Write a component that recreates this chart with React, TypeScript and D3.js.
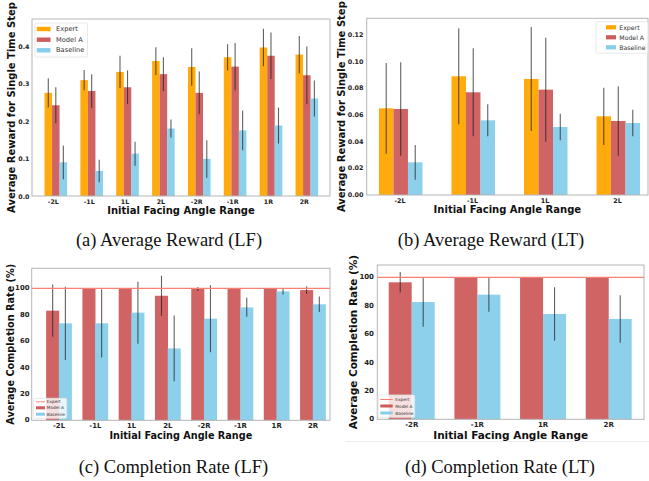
import React from "react";
import * as d3 from "d3";

// categories
const catsLF = ["-2L", "-1L", "1L", "2L", "-2R", "-1R", "1R", "2R"];
const catsLT = ["-2L", "-1L", "1L", "2L"];
const catsLTc = ["-2R", "-1R", "1R", "2R"];

// (a) average reward, LF
const rewLFExpert = [0.275, 0.309, 0.331, 0.36, 0.344, 0.37, 0.396, 0.377];
const rewLFExpertErr = [0.039, 0.027, 0.043, 0.037, 0.05, 0.035, 0.05, 0.05];
const rewLFModel = [0.242, 0.28, 0.29, 0.325, 0.275, 0.345, 0.374, 0.322];
const rewLFModelErr = [0.048, 0.045, 0.045, 0.045, 0.057, 0.063, 0.062, 0.077];
const rewLFBase = [0.09, 0.067, 0.113, 0.18, 0.099, 0.175, 0.188, 0.26];
const rewLFBaseErr = [0.045, 0.03, 0.032, 0.024, 0.05, 0.053, 0.048, 0.048];

// (b) average reward, LT
const rewLTExpert = [0.065, 0.089, 0.087, 0.059];
const rewLTExpertErr = [0.034, 0.036, 0.039, 0.0215];
const rewLTModel = [0.0645, 0.077, 0.079, 0.0555];
const rewLTModelErr = [0.035, 0.033, 0.039, 0.026];
const rewLTBase = [0.0245, 0.056, 0.051, 0.054];
const rewLTBaseErr = [0.013, 0.012, 0.01, 0.01];

// (c) completion rate, LF
const compLFModel = [83.1, 100, 100, 94.4, 99.5, 100, 100, 98.7];
const compLFModelErr = [19.8, 0, 0, 15.2, 1.5, 0, 0, 2.9];
const compLFBase = [73.5, 73.5, 81.6, 54.5, 77, 85.6, 97.7, 87.9];
const compLFBaseErr = [27.8, 25.9, 23.5, 24.9, 25.4, 7.2, 2.3, 5.9];

// (d) completion rate, LT
const compLTModel = [96.5, 100, 100, 100];
const compLTModelErr = [7.2, 0, 0, 0];
const compLTBase = [82.6, 87.8, 74.2, 70.7];
const compLTBaseErr = [17.4, 12, 18.8, 16.7];

const expertRate = 100;

const ORANGE = "#ffa500";
const RED = "#cd5c5c";
const BLUE = "#87ceeb";
const SALMON = "#fa8072";
const BOLD = "'DejaVu Sans', sans-serif";

type Series = { name: string; color: string; mean: number[]; err: number[]; off: number };

function Panel(p: any) {
  const [l, t, r, b] = p.frame;
  const x = d3.scaleLinear().domain(p.xlim).range([l, r]);
  const y = d3.scaleLinear().domain([0, p.yMax]).range([b, t]);
  const bw = x(p.barW) - x(0);
  const fmt = d3.format(p.fmt);
  const lg = p.legend;
  const items: any[] = [];
  if (p.expert != null) items.push({ name: "Expert", color: SALMON, line: true });
  p.series.forEach((s: Series) => items.push({ name: s.name, color: s.color }));

  return (
    <g>
      {p.series.map((s: Series) =>
        s.mean.map((v, i) => (
          <rect
            key={s.name + i}
            x={x(i + s.off) - bw / 2}
            width={bw}
            y={y(v)}
            height={y(0) - y(v)}
            fill={s.color}
            opacity={0.95}
          />
        ))
      )}
      {p.series.map((s: Series) =>
        s.mean.map((v, i) =>
          s.err[i] > 0 ? (
            <line
              key={"e" + s.name + i}
              x1={x(i + s.off)}
              x2={x(i + s.off)}
              y1={y(v - s.err[i])}
              y2={y(v + s.err[i])}
              stroke="rgba(30,30,30,0.7)"
              strokeWidth={1.1}
            />
          ) : null
        )
      )}
      {p.expert != null && (
        <line x1={l} x2={r} y1={y(p.expert)} y2={y(p.expert)} stroke={SALMON} strokeWidth={1.2} />
      )}
      <rect x={l} y={t} width={r - l} height={b - t} fill="none" stroke="#b5b5b5" strokeWidth={1} />
      {p.yTicks.map((v: number) => (
        <text
          key={"yt" + v}
          x={p.ytickX}
          y={y(v)}
          textAnchor="end"
          dominantBaseline="central"
          fontFamily={BOLD}
          fontWeight="bold"
          fontSize={p.tickSize}
          fill="#222"
        >
          {fmt(v)}
        </text>
      ))}
      {p.cats.map((c: string, i: number) => (
        <text
          key={"xt" + c}
          x={x(i + p.tickOff)}
          y={p.xtickY}
          textAnchor="middle"
          dominantBaseline="central"
          fontFamily={BOLD}
          fontWeight="bold"
          fontSize={p.tickSize}
          fill="#222"
        >
          {c}
        </text>
      ))}
      <text
        x={(l + r) / 2}
        y={p.xlabelY}
        textAnchor="middle"
        dominantBaseline="central"
        fontFamily={BOLD}
        fontWeight="bold"
        fontSize={p.labelSize}
        fill="#111"
      >
        Initial Facing Angle Range
      </text>
      <text
        transform={`translate(${p.ylabelX},${(t + b) / 2}) rotate(-90)`}
        textAnchor="middle"
        dominantBaseline="central"
        fontFamily={BOLD}
        fontWeight="bold"
        fontSize={p.labelSize}
        fill="#111"
      >
        {p.ylabel}
      </text>
      <rect
        x={lg.x0}
        y={lg.y0}
        width={lg.x1 - lg.x0}
        height={lg.y1 - lg.y0}
        fill="white"
        fillOpacity={0.8}
        stroke="#e2e2e2"
        strokeWidth={0.8}
        rx={1.5}
      />
      {items.map((it, i) =>
        <g key={"lg" + it.name}>
          {it.line ? (
            <line x1={lg.px0} x2={lg.px1} y1={lg.rows[i]} y2={lg.rows[i]} stroke={it.color} strokeWidth={1} />
          ) : (
            <rect x={lg.px0} width={lg.px1 - lg.px0} y={lg.rows[i] - lg.ph / 2} height={lg.ph} fill={it.color} />
          )}
          <text
            x={lg.tx}
            y={lg.rows[i]}
            dominantBaseline="central"
            fontFamily={BOLD}
            fontSize={lg.fs}
            fill="#333"
          >
            {it.name}
          </text>
        </g>
      )}
    </g>
  );
}

function Caption({ x, y, text }: { x: number; y: number; text: string }) {
  return (
    <text
      x={x}
      y={y}
      textAnchor="middle"
      dominantBaseline="central"
      fontFamily="'Liberation Serif', 'Times New Roman', serif"
      fontSize={18.5}
      fill="#111"
    >
      {text}
    </text>
  );
}

export default function App() {
  const rewardLF: Series[] = [
    { name: "Expert", color: ORANGE, mean: rewLFExpert, err: rewLFExpertErr, off: -0.14 },
    { name: "Model A", color: RED, mean: rewLFModel, err: rewLFModelErr, off: 0.07 },
    { name: "Baseline", color: BLUE, mean: rewLFBase, err: rewLFBaseErr, off: 0.28 },
  ];
  const rewardLT: Series[] = [
    { name: "Expert", color: ORANGE, mean: rewLTExpert, err: rewLTExpertErr, off: -0.19 },
    { name: "Model A", color: RED, mean: rewLTModel, err: rewLTModelErr, off: 0.01 },
    { name: "Baseline", color: BLUE, mean: rewLTBase, err: rewLTBaseErr, off: 0.21 },
  ];
  const compLF: Series[] = [
    { name: "Model A", color: RED, mean: compLFModel, err: compLFModelErr, off: -0.175 },
    { name: "Baseline", color: BLUE, mean: compLFBase, err: compLFBaseErr, off: 0.175 },
  ];
  const compLT: Series[] = [
    { name: "Model A", color: RED, mean: compLTModel, err: compLTModelErr, off: -0.175 },
    { name: "Baseline", color: BLUE, mean: compLTBase, err: compLTBaseErr, off: 0.175 },
  ];

  return (
    <div style={{ position: "absolute", left: 0, top: 0 }}>
      <svg width={649} height={481} style={{ display: "block", background: "white" }}>
        <Panel
          frame={[32, 19, 330, 196]}
          xlim={[-0.594, 7.716]}
          cats={catsLF}
          tickOff={0}
          series={rewardLF}
          barW={0.21}
          yMax={0.472}
          yTicks={[0, 0.1, 0.2, 0.3, 0.4]}
          fmt=".1f"
          tickSize={6.3}
          labelSize={10}
          ytickX={29.5}
          xtickY={201.3}
          xlabelY={210.7}
          ylabelX={11.7}
          ylabel="Average Reward for Single Time Step"
          legend={{ x0: 35, y0: 23, x1: 87.5, y1: 57, rows: [29, 39.7, 50.3], px0: 36.8, px1: 50.5, ph: 4.4, tx: 56, fs: 6.7 }}
        />
        <Panel
          frame={[366.7, 18.3, 648, 195]}
          xlim={[-0.459, 3.42]}
          cats={catsLT}
          tickOff={0}
          series={rewardLT}
          barW={0.2}
          yMax={0.1325}
          yTicks={[0, 0.02, 0.04, 0.06, 0.08, 0.1, 0.12]}
          fmt=".2f"
          tickSize={6.4}
          labelSize={10}
          ytickX={363.5}
          xtickY={201}
          xlabelY={209.3}
          ylabelX={341.7}
          ylabel="Average Reward for Single Time Step"
          legend={{ x0: 596, y0: 21.7, x1: 648, y1: 53.3, rows: [27.3, 37.3, 47.3], px0: 606, px1: 616, ph: 4.2, tx: 619.3, fs: 6.2 }}
        />
        <Panel
          frame={[31.7, 268.3, 330, 420.3]}
          xlim={[-0.753, 7.47]}
          cats={catsLF}
          tickOff={0}
          series={compLF}
          barW={0.36}
          yMax={115.2}
          yTicks={[0, 20, 40, 60, 80, 100]}
          fmt="d"
          tickSize={6.9}
          labelSize={9.7}
          ytickX={29.5}
          xtickY={426.4}
          xlabelY={435.3}
          ylabelX={10}
          expert={expertRate}
          ylabel="Average Completion Rate (%)"
          legend={{ x0: 33.3, y0: 398.3, x1: 66.7, y1: 418.3, rows: [401.8, 407.8, 414.2], px0: 36, px1: 45, ph: 3, tx: 46.7, fs: 4.3 }}
        />
        <Panel
          frame={[377.3, 265, 644, 419.3]}
          xlim={[-0.524, 3.537]}
          cats={catsLTc}
          tickOff={0}
          series={compLT}
          barW={0.35}
          yMax={108.7}
          yTicks={[0, 20, 40, 60, 80, 100]}
          fmt="d"
          tickSize={7}
          labelSize={10.5}
          ytickX={374}
          xtickY={425.2}
          xlabelY={435.4}
          ylabelX={353.3}
          expert={expertRate}
          ylabel="Average Completion Rate (%)"
          legend={{ x0: 378, y0: 395, x1: 414.7, y1: 417.3, rows: [399.5, 406, 413], px0: 380.3, px1: 392.7, ph: 3, tx: 395.3, fs: 4.3 }}
        />
        <line x1={345} x2={649} y1={441.7} y2={441.7} stroke="#ececec" strokeWidth={1} />
        <Caption x={169} y={240} text="(a) Average Reward (LF)" />
        <Caption x={491} y={240} text="(b) Average Reward (LT)" />
        <Caption x={173.5} y={466.7} text="(c) Completion Rate (LF)" />
        <Caption x={500} y={466.7} text="(d) Completion Rate (LT)" />
      </svg>
    </div>
  );
}
